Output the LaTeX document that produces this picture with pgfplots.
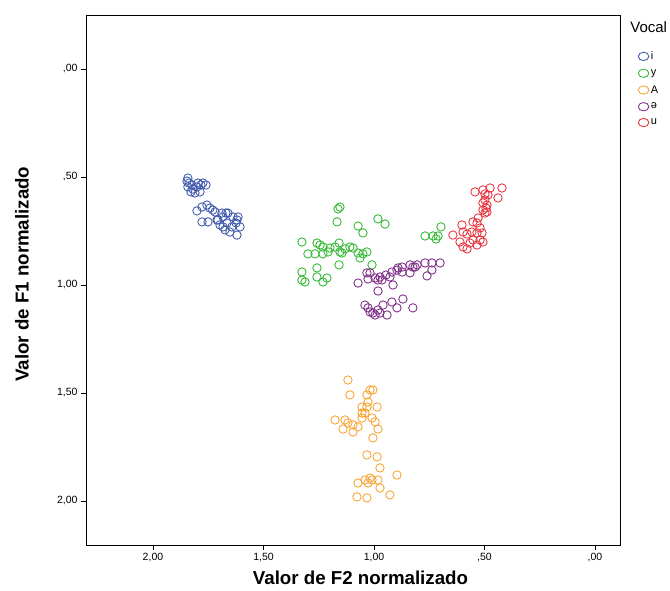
\documentclass[border=0pt]{standalone}
\usepackage{fontspec}
\setmainfont{Liberation Sans}
\usepackage{pgfplots}
\pgfplotsset{compat=1.18}
\definecolor{ci}{HTML}{3E58AC}
\definecolor{cy}{HTML}{2EB82E}
\definecolor{ca}{HTML}{F9A12E}
\definecolor{ce}{HTML}{7E2B85}
\definecolor{cu}{HTML}{E8323C}
\begin{document}
\begin{tikzpicture}
\useasboundingbox (-86pt,-45pt) rectangle (584pt,545pt);
\begin{axis}[
  scale only axis, width=534pt, height=530pt,
  x dir=reverse, y dir=reverse,
  xmin=-0.113, xmax=2.303, ymin=-0.25, ymax=2.204,
  xtick={0,0.5,1,1.5,2}, xticklabels={{,00},{,50},{1,00},{1,50},{2,00}},
  ytick={0,0.5,1,1.5,2}, yticklabels={{,00},{,50},{1,00},{1,50},{2,00}},
  tick align=outside, xtick pos=bottom, ytick pos=left,
  major tick length=5pt,
  tick style={black, line width=0.8pt},
  axis line style={black, line width=0.9pt},
  /pgf/number format/assume math mode=true,
  ticklabel style={font=\fontsize{10.5}{12}\selectfont},
  xlabel={Valor de F2 normalizado},
  ylabel={Valor de F1 normalizado},
  label style={font=\bfseries\fontsize{18.7}{22}\selectfont},
  xlabel style={at={(axis description cs:0.514,-0.061)}, anchor=center, inner sep=1pt},
  ylabel style={at={(axis description cs:-0.12,0.511)}, anchor=center, rotate=0},
  legend style={at={(axis description cs:1.034,0.935)}, anchor=north west, draw=none, fill=none,
    font=\fontsize{11}{12}\selectfont, row sep=4.5pt, inner sep=0pt},
  legend cell align=left,
  legend image post style={mark options={xscale=1.25}},
  every axis plot/.append style={only marks, mark=o, mark size=4.2pt, line width=0.85pt},
  clip=false,
]
\addplot[ci, mark options={ci}] coordinates {
(1.842,0.505) (1.846,0.519) (1.837,0.528) (1.842,0.546) (1.828,0.569) (1.819,0.556)
(1.801,0.546) (1.783,0.537) (1.774,0.528) (1.760,0.537) (1.787,0.569) (1.810,0.574)
(1.824,0.537) (1.796,0.528)
(1.801,0.657) (1.778,0.639) (1.756,0.630) (1.742,0.644) (1.729,0.653) (1.778,0.708)
(1.751,0.708) (1.706,0.699) (1.683,0.685) (1.661,0.667) (1.638,0.685) (1.620,0.699)
(1.606,0.731) (1.652,0.755) (1.620,0.769) (1.683,0.731) (1.697,0.722) (1.710,0.699)
(1.665,0.713) (1.643,0.731) (1.674,0.745) (1.615,0.685) (1.688,0.667) (1.719,0.662)
(1.670,0.667) (1.624,0.713)
};
\addlegendentry{i}
\addplot[cy, mark options={cy}] coordinates {
(1.154,0.639) (1.163,0.648) (1.167,0.708) (1.072,0.727) (1.050,0.759) (0.982,0.694)
(0.950,0.718) (1.326,0.801) (1.258,0.806) (1.244,0.815) (1.231,0.824) (1.199,0.829)
(1.176,0.824) (1.158,0.806) (1.154,0.847) (1.131,0.833) (1.109,0.824) (1.095,0.829)
(1.072,0.852) (1.050,0.856) (1.032,0.847) (1.063,0.875) (1.299,0.856) (1.267,0.856)
(1.231,0.856) (1.208,0.847) (1.145,0.852) (1.009,0.907) (1.158,0.907) (1.326,0.940)
(1.258,0.921) (1.258,0.963) (1.213,0.968) (1.231,0.986) (1.326,0.977) (1.312,0.986)
(0.769,0.773) (0.733,0.773) (0.719,0.787) (0.710,0.773) (0.697,0.731)
};
\addlegendentry{y}
\addplot[ca, mark options={ca}] coordinates {
(1.118,1.440) (1.109,1.509) (1.032,1.509) (1.018,1.486) (1.005,1.486) (1.027,1.542)
(1.054,1.565) (1.032,1.565) (0.986,1.565) (1.054,1.593) (1.041,1.593) (1.176,1.625)
(1.131,1.625) (1.118,1.639) (1.095,1.648) (1.072,1.657) (1.054,1.616) (1.009,1.616)
(0.995,1.634) (1.140,1.667) (1.095,1.681) (0.982,1.667) (1.005,1.708) (1.032,1.787)
(0.986,1.796) (0.973,1.847) (0.896,1.880) (1.018,1.894) (1.009,1.903) (1.072,1.917)
(1.027,1.917) (0.982,1.903) (0.973,1.940) (1.077,1.981) (1.032,1.986) (0.928,1.972)
(1.041,1.903)
};
\addlegendentry{A}
\addplot[ce, mark options={ce}] coordinates {
(1.072,0.991) (1.032,0.944) (1.027,0.972) (0.995,0.968) (0.982,0.977) (0.964,0.977)
(0.982,1.028) (0.928,0.963) (0.919,0.940) (0.914,1.000) (0.896,0.931) (0.873,0.917)
(0.873,0.940) (0.837,0.907) (0.837,0.944) (0.824,0.917) (0.805,0.907) (0.769,0.898)
(0.738,0.898) (0.701,0.898) (0.738,0.931) (0.760,0.958) (1.018,0.944) (0.973,0.963)
(0.891,0.921) (0.814,0.917) (0.946,0.954)
(1.041,1.093) (1.018,1.125) (1.005,1.130) (0.982,1.116) (0.973,1.130) (0.959,1.093)
(0.941,1.139) (0.919,1.079) (0.896,1.106) (0.869,1.065) (0.824,1.106) (0.995,1.139)
(1.027,1.106)
};
\addlegendentry{ə}
\addplot[cu, mark options={cu}] coordinates {
(0.543,0.569) (0.507,0.560) (0.498,0.579) (0.484,0.583) (0.421,0.551) (0.439,0.597)
(0.507,0.620) (0.489,0.630) (0.507,0.653) (0.498,0.667) (0.489,0.662) (0.498,0.606)
(0.493,0.644) (0.602,0.722) (0.552,0.708) (0.534,0.713) (0.643,0.769) (0.597,0.755)
(0.579,0.764) (0.557,0.755) (0.534,0.759) (0.511,0.759) (0.552,0.792) (0.520,0.792)
(0.597,0.824) (0.579,0.833) (0.611,0.801) (0.566,0.806) (0.534,0.815) (0.507,0.801)
(0.520,0.736) (0.529,0.690) (0.475,0.551)
};
\addlegendentry{u}
\node[anchor=north west, inner sep=0pt, font=\fontsize{15}{17}\selectfont] at (axis description cs:1.019,0.987) {Vocal};
\end{axis}
\end{tikzpicture}
\end{document}
